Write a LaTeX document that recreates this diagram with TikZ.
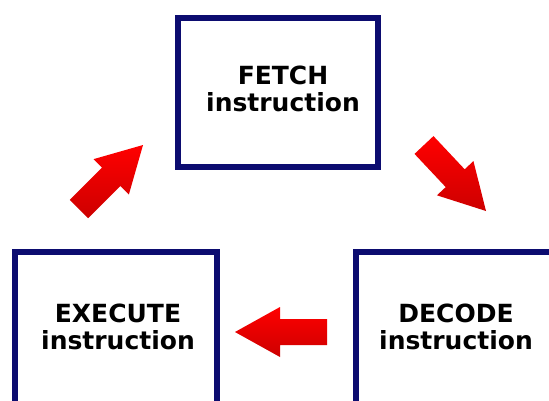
\documentclass[tikz,border=0pt]{standalone}
\usepackage{fontspec}
\setmainfont{DejaVu Sans}
\usetikzlibrary{calc}
\definecolor{boxnavy}{RGB}{12,12,112}
\definecolor{arrred}{RGB}{255,0,0}
\definecolor{arrdark}{RGB}{205,0,0}
\tikzset{
  stagebox/.style={draw=boxnavy, line width=5.5pt, fill=white, rectangle, inner sep=0pt},
  stagetext/.style={font=\fontsize{25}{27}\selectfont\bfseries, align=center, inner sep=0pt, text=black},
  arrowshade/.style={top color=arrred, middle color=arrred, bottom color=arrdark}
}
\newcommand\fatarrow[2]{%
  \path (#2) coordinate (tmpT) ($(#2)!45pt!(#1)$) coordinate (tmpB);
  \shade[arrowshade] ($(#1)!13pt!90:(#2)$) -- ($(tmpB)!13pt!90:(tmpT)$) -- ($(tmpB)!25pt!90:(tmpT)$) -- (tmpT)
    -- ($(tmpB)!25pt!-90:(tmpT)$) -- ($(tmpB)!13pt!-90:(tmpT)$) -- ($(#1)!13pt!-90:(#2)$) -- cycle;}
\begin{document}
\begin{tikzpicture}[x=1pt,y=-1pt]
\useasboundingbox (0,0) rectangle (549,400);
\clip (0,0) rectangle (549,400);
\fill[white] (0,0) rectangle (549,400);
% boxes
\node[stagebox, minimum width=200pt, minimum height=149pt] (fetchbox) at (278,92.5) {};
\node[stagebox, minimum width=202pt, minimum height=160pt] (execbox) at (116,332) {};
\node[stagebox, minimum width=210pt, minimum height=160pt] (decbox) at (461,332) {};
% texts
\node[stagetext] (fetcht) at (283,89) {FETCH\\instruction};
\node[stagetext] (dect) at (456,326.5) {DECODE\\instruction};
\node[stagetext] (exect) at (118,326.5) {EXECUTE\\instruction};
% arrows
\coordinate (a1s) at (424,145); \coordinate (a1e) at (486,211);
\coordinate (a2s) at (327,332); \coordinate (a2e) at (235,332);
\coordinate (a3s) at (79,209);  \coordinate (a3e) at (143,145);
\fatarrow{a1s}{a1e}
\fatarrow{a2s}{a2e}
\fatarrow{a3s}{a3e}
\end{tikzpicture}
\end{document}
